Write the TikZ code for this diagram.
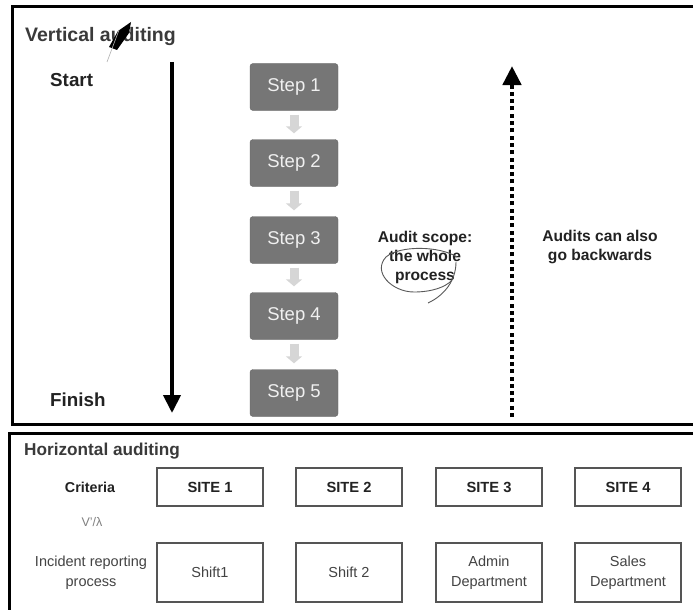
\documentclass[tikz,border=0pt]{standalone}
\usepackage{fontspec}
\setmainfont{Liberation Sans}
\usetikzlibrary{arrows.meta}
\definecolor{stepfill}{HTML}{767676}
\definecolor{stepedge}{HTML}{666666}
\definecolor{flowgray}{HTML}{D6D6D6}
\definecolor{titlegray}{HTML}{3A3A3A}
\definecolor{boxedge}{HTML}{555555}
\definecolor{txt}{HTML}{222222}
\begin{document}
\begin{tikzpicture}[x=1pt,y=-1pt,
  frame/.style={line width=3pt, draw=black},
  title/.style={anchor=west, inner sep=0pt, text=titlegray, font=\bfseries\fontsize{19.5}{23}\selectfont},
  htitle/.style={anchor=west, inner sep=0pt, text=titlegray, font=\bfseries\fontsize{17.2}{20}\selectfont},
  endlabel/.style={anchor=west, inner sep=0pt, text=txt, font=\bfseries\fontsize{18.8}{22}\selectfont},
  stepbox/.style={draw=stepedge, fill=stepfill, rounded corners=3pt, minimum width=88pt, minimum height=47pt, inner sep=0pt, text=white!94!black, font=\fontsize{18.5}{21}\selectfont},
  flow/.style={draw=flowgray, line width=9pt, -{Triangle[width=16pt,length=7pt]}, shorten <=4pt, shorten >=6pt},
  note/.style={align=center, inner sep=0pt, text=txt, font=\bfseries\fontsize{15.6}{19}\selectfont},
  sitebox/.style={draw=boxedge, line width=1.2pt, minimum width=106pt, minimum height=38pt, inner sep=0pt, text=txt, font=\bfseries\fontsize{14.7}{17}\selectfont},
  unitbox/.style={draw=boxedge, line width=1.2pt, minimum width=106pt, minimum height=59pt, inner sep=0pt, align=center, text=txt!85!white, font=\fontsize{14.5}{20}\selectfont},
  rowlabel/.style={align=center, inner sep=0pt, text=txt!85!white, font=\fontsize{14.5}{20}\selectfont}
]
\useasboundingbox (0,0) rectangle (693,610);
\clip (0,0) rectangle (693,610);
\fill[white] (0,0) rectangle (693,610);

% frames
\draw[frame] (700,7) -- (12,7) -- (12,424) -- (700,424);
\draw[frame] (700,433) -- (9,433) -- (9,620);

% vertical auditing
\node[title] (vtitle) at (25,37) {Vertical auditing};
\fill[black] (109,47) -- (118,31) -- (131,22) -- (129,33) -- (117,50) -- cycle;
\draw[gray!60, line width=0.6pt] (107,62) -- (119,30);

\node[endlabel] (start) at (50,80) {Start};
\node[endlabel] (finish) at (50,400) {Finish};

\coordinate (vtop) at (172,62);
\coordinate (vbot) at (172,413);
\draw[line width=4pt, -{Triangle[width=17pt,length=18pt]}] (vtop) -- (vbot);

\node[stepbox] (s1) at (294,87) {Step 1};
\node[stepbox] (s2) at (294,163) {Step 2};
\node[stepbox] (s3) at (294,240) {Step 3};
\node[stepbox] (s4) at (294,316) {Step 4};
\node[stepbox] (s5) at (294,393) {Step 5};
\draw[flow] (s1) -- (s2);
\draw[flow] (s2) -- (s3);
\draw[flow] (s3) -- (s4);
\draw[flow] (s4) -- (s5);

\node[note] (scope) at (425,257) {Audit scope:\\the whole\\process};
\draw[gray!70!black, line width=0.9pt]
  (457,257) .. controls (440,246) and (400,245) .. (386,257)
  .. controls (372,272) and (392,292) .. (414,292)
  .. controls (432,292) and (446,287) .. (452,280);
\draw[gray!70!black, line width=0.9pt] (456,262) .. controls (456,280) and (445,295) .. (428,303);

\coordinate (dbot) at (512,417);
\coordinate (dtop) at (512,66);
\draw[line width=4.5pt, dash pattern=on 4pt off 3.3pt, -{Triangle[width=18pt,length=19pt]}] (dbot) -- (dtop);

\node[note] (back) at (600,247) {Audits can also\\go backwards};

% horizontal auditing
\node[htitle] (htitle) at (24,451) {Horizontal auditing};
\node[inner sep=0pt, text=txt, font=\bfseries\fontsize{14.3}{17}\selectfont] (crit) at (90,487) {Criteria};
\node[inner sep=0pt, text=gray, font=\fontsize{12.5}{14}\selectfont] (mark) at (92,522) {V'/λ};
\node[rowlabel] (proc) at (91,573) {Incident reporting\\process};

\node[sitebox] (site1) at (210,487) {SITE 1};
\node[sitebox] (site2) at (349,487) {SITE 2};
\node[sitebox] (site3) at (489,487) {SITE 3};
\node[sitebox] (site4) at (628,487) {SITE 4};

\node[unitbox] (u1) at (210,572.5) {Shift1};
\node[unitbox] (u2) at (349,572.5) {Shift 2};
\node[unitbox] (u3) at (489,572.5) {Admin\\Department};
\node[unitbox] (u4) at (628,572.5) {Sales\\Department};
\end{tikzpicture}
\end{document}
